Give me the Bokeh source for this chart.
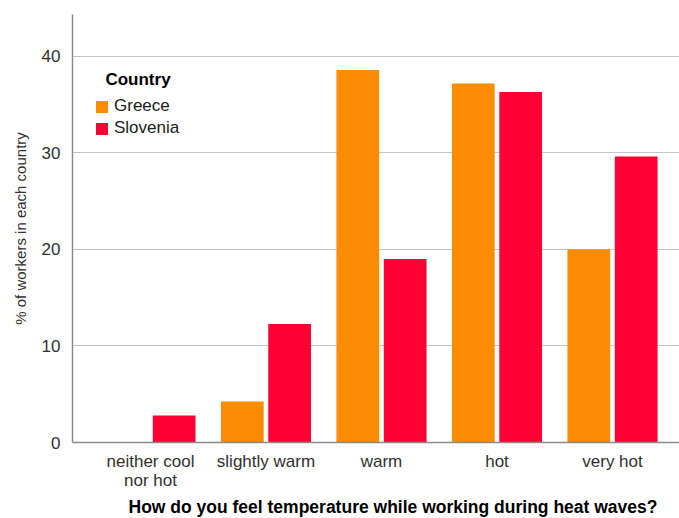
from bokeh.plotting import figure
from bokeh.models import Range1d, FixedTicker, Legend, LegendItem, Title, Label
from bokeh.embed import file_html
from bokeh.resources import INLINE

categories = ["neither cool\nnor hot", "slightly warm", "warm", "hot", "very hot"]
greece = [0.0, 4.25, 38.55, 37.15, 20.0]
slovenia = [2.8, 12.27, 19.0, 36.27, 29.6]
y_ticks = [0, 10, 20, 30, 40]
series_names = ["Greece", "Slovenia"]
legend_title = "Country"
x_title = "How do you feel temperature while working during heat waves?"
y_title = "% of workers in each country"
colors = ["#F98C00", "#FF0033"]

FONT = "Liberation Sans"
TXT = "#303030"

xs = list(range(len(categories)))
p = figure(width=679, height=518, output_backend="svg", toolbar_location=None,
           x_range=Range1d(-0.675, 4.58), y_range=Range1d(0, 44.3),
           min_border_left=72, min_border_right=0, min_border_top=14, min_border_bottom=76)
p.outline_line_color = None
p.background_fill_color = "white"

r1 = p.vbar(x=[x - 0.205 for x in xs], top=greece, width=0.37, fill_color=colors[0], line_color=None)
r2 = p.vbar(x=[x + 0.205 for x in xs], top=slovenia, width=0.37, fill_color=colors[1], line_color=None)

p.xaxis.ticker = FixedTicker(ticks=xs)
p.xaxis.major_label_overrides = {i: c for i, c in enumerate(categories)}
p.yaxis.ticker = FixedTicker(ticks=y_ticks)

for ax in (p.xaxis, p.yaxis):
    ax.axis_line_color = "#8a8a8a"
    ax.axis_line_width = 1.5
    ax.major_tick_line_color = None
    ax.minor_tick_line_color = None
    ax.major_label_text_font = FONT
    ax.major_label_text_font_size = "17px"
    ax.major_label_text_color = TXT
p.xaxis.major_label_standoff = 3
p.xaxis.major_label_text_line_height = 1.0
p.yaxis.major_label_standoff = 6

p.xgrid.grid_line_color = None
p.ygrid.grid_line_color = "#c4c4c4"
p.ygrid.grid_line_width = 1

p.yaxis.axis_label = y_title
p.yaxis.axis_label_text_font = FONT
p.yaxis.axis_label_text_font_size = "15px"
p.yaxis.axis_label_text_font_style = "normal"
p.yaxis.axis_label_text_color = TXT
p.yaxis.axis_label_standoff = 10

t = Title(text=x_title, align="left", offset=56, text_font=FONT, text_font_size="17.5px",
          text_font_style="bold", text_color="black", standoff=4, text_line_height=0.9)
p.add_layout(t, "below")

p.add_layout(Label(x=-0.39, y=37.58, text=legend_title, text_font=FONT, text_font_size="17px",
                   text_font_style="bold", text_color="black", text_baseline="middle",
                   text_align="left"))

legend = Legend(items=[LegendItem(label=series_names[0], renderers=[r1]),
                       LegendItem(label=series_names[1], renderers=[r2])],
                location=(22, 304),
                label_text_font=FONT, label_text_font_size="17px", label_text_color="#202020",
                glyph_width=15, glyph_height=15, label_height=15, label_standoff=5, spacing=2,
                padding=0, margin=0, border_line_color=None, background_fill_alpha=0)
p.add_layout(legend, "center")

open("out.html", "w").write(file_html(p, INLINE))
